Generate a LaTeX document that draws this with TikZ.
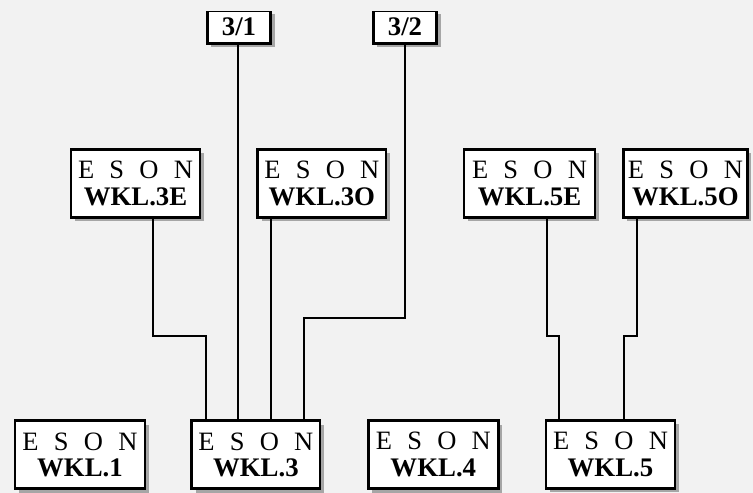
\documentclass[tikz,border=0pt]{standalone}
\usepackage{fontspec}
\setmainfont{Liberation Serif}
\usetikzlibrary{shadows}
\definecolor{bgc}{RGB}{242,242,242}
\definecolor{shc}{RGB}{166,166,166}
\newcommand{\esonline}{{\fontsize{26.5}{26.5}\selectfont\makebox[115pt][s]{E\hfill S\hfill O\hfill N}}}
\newcommand{\wklname}[1]{{\fontsize{26.8}{26.5}\selectfont\bfseries #1}}
\begin{document}
\begin{tikzpicture}[x=1pt,y=-1pt,
  wbox/.style={draw, line width=2.8pt, fill=white, inner sep=0pt, minimum height=68pt,
    align=center, font=\fontsize{26.5}{26.5}\selectfont,
    general shadow={shadow xshift=4pt, shadow yshift=-4pt, fill=shc}},
  tbox/.style={draw, line width=2.8pt, fill=white, inner sep=0pt, minimum height=33pt,
    minimum width=63.4pt, font=\fontsize{26.8}{27}\selectfont\bfseries,
    general shadow={shadow xshift=4pt, shadow yshift=-4pt, fill=shc}},
  conn/.style={draw, line width=2pt}]
\fill[bgc] (0,0) rectangle (753,493);
\useasboundingbox (0,0) rectangle (753,493);
% bottom row
\node[wbox, minimum width=130pt] (w1) at (80,454.8) {\esonline\\\wklname{WKL.1}};
\node[wbox, minimum width=128.3pt] (w3) at (255.85,454.8) {\esonline\\\wklname{WKL.3}};
\node[wbox, minimum width=130pt] (w4) at (433.3,454.6) {\esonline\\\wklname{WKL.4}};
\node[wbox, minimum width=129pt] (w5) at (610.5,454.3) {\esonline\\\wklname{WKL.5}};
% middle row
\node[wbox, minimum width=129pt] (w3e) at (135.5,183.2) {\esonline\\\wklname{WKL.3E}};
\node[wbox, minimum width=128.3pt] (w3o) at (321.85,183.2) {\esonline\\\wklname{WKL.3O}};
\node[wbox, minimum width=131pt] (w5e) at (529.5,183.2) {\esonline\\\wklname{WKL.5E}};
\node[wbox, minimum width=124pt] (w5o) at (685.4,183.2) {\esonline\\\wklname{WKL.5O}};
% top boxes (cut at top)
\begin{scope}
\clip (0,11.0) rectangle (753,493);
\node[tbox] (t31) at (239,26.65) {3/1};
\node[tbox] (t32) at (405,26.65) {3/2};
\end{scope}
% connectors
\draw[conn] ([xshift=17.2pt]w3e.south) -- ++(0,117.3) -| ([xshift=-50.15pt]w3.north);
\draw[conn] ([xshift=-0.7pt]t31.south) -- ([xshift=-0.7pt]t31.south |- w3.north);
\draw[conn] ([xshift=-50.85pt]w3o.south) -- ([xshift=-50.85pt]w3o.south |- w3.north);
\draw[conn] ([xshift=0.3pt]t32.south) -- ++(0,273.4) -| ([xshift=48.45pt]w3.north);
\draw[conn] ([xshift=17.8pt]w5e.south) -- ++(0,117) -| ([xshift=-51.5pt]w5.north);
\draw[conn] ([xshift=-48.7pt]w5o.south) -- ++(0,117) -| ([xshift=13.8pt]w5.north);
\end{tikzpicture}
\end{document}
